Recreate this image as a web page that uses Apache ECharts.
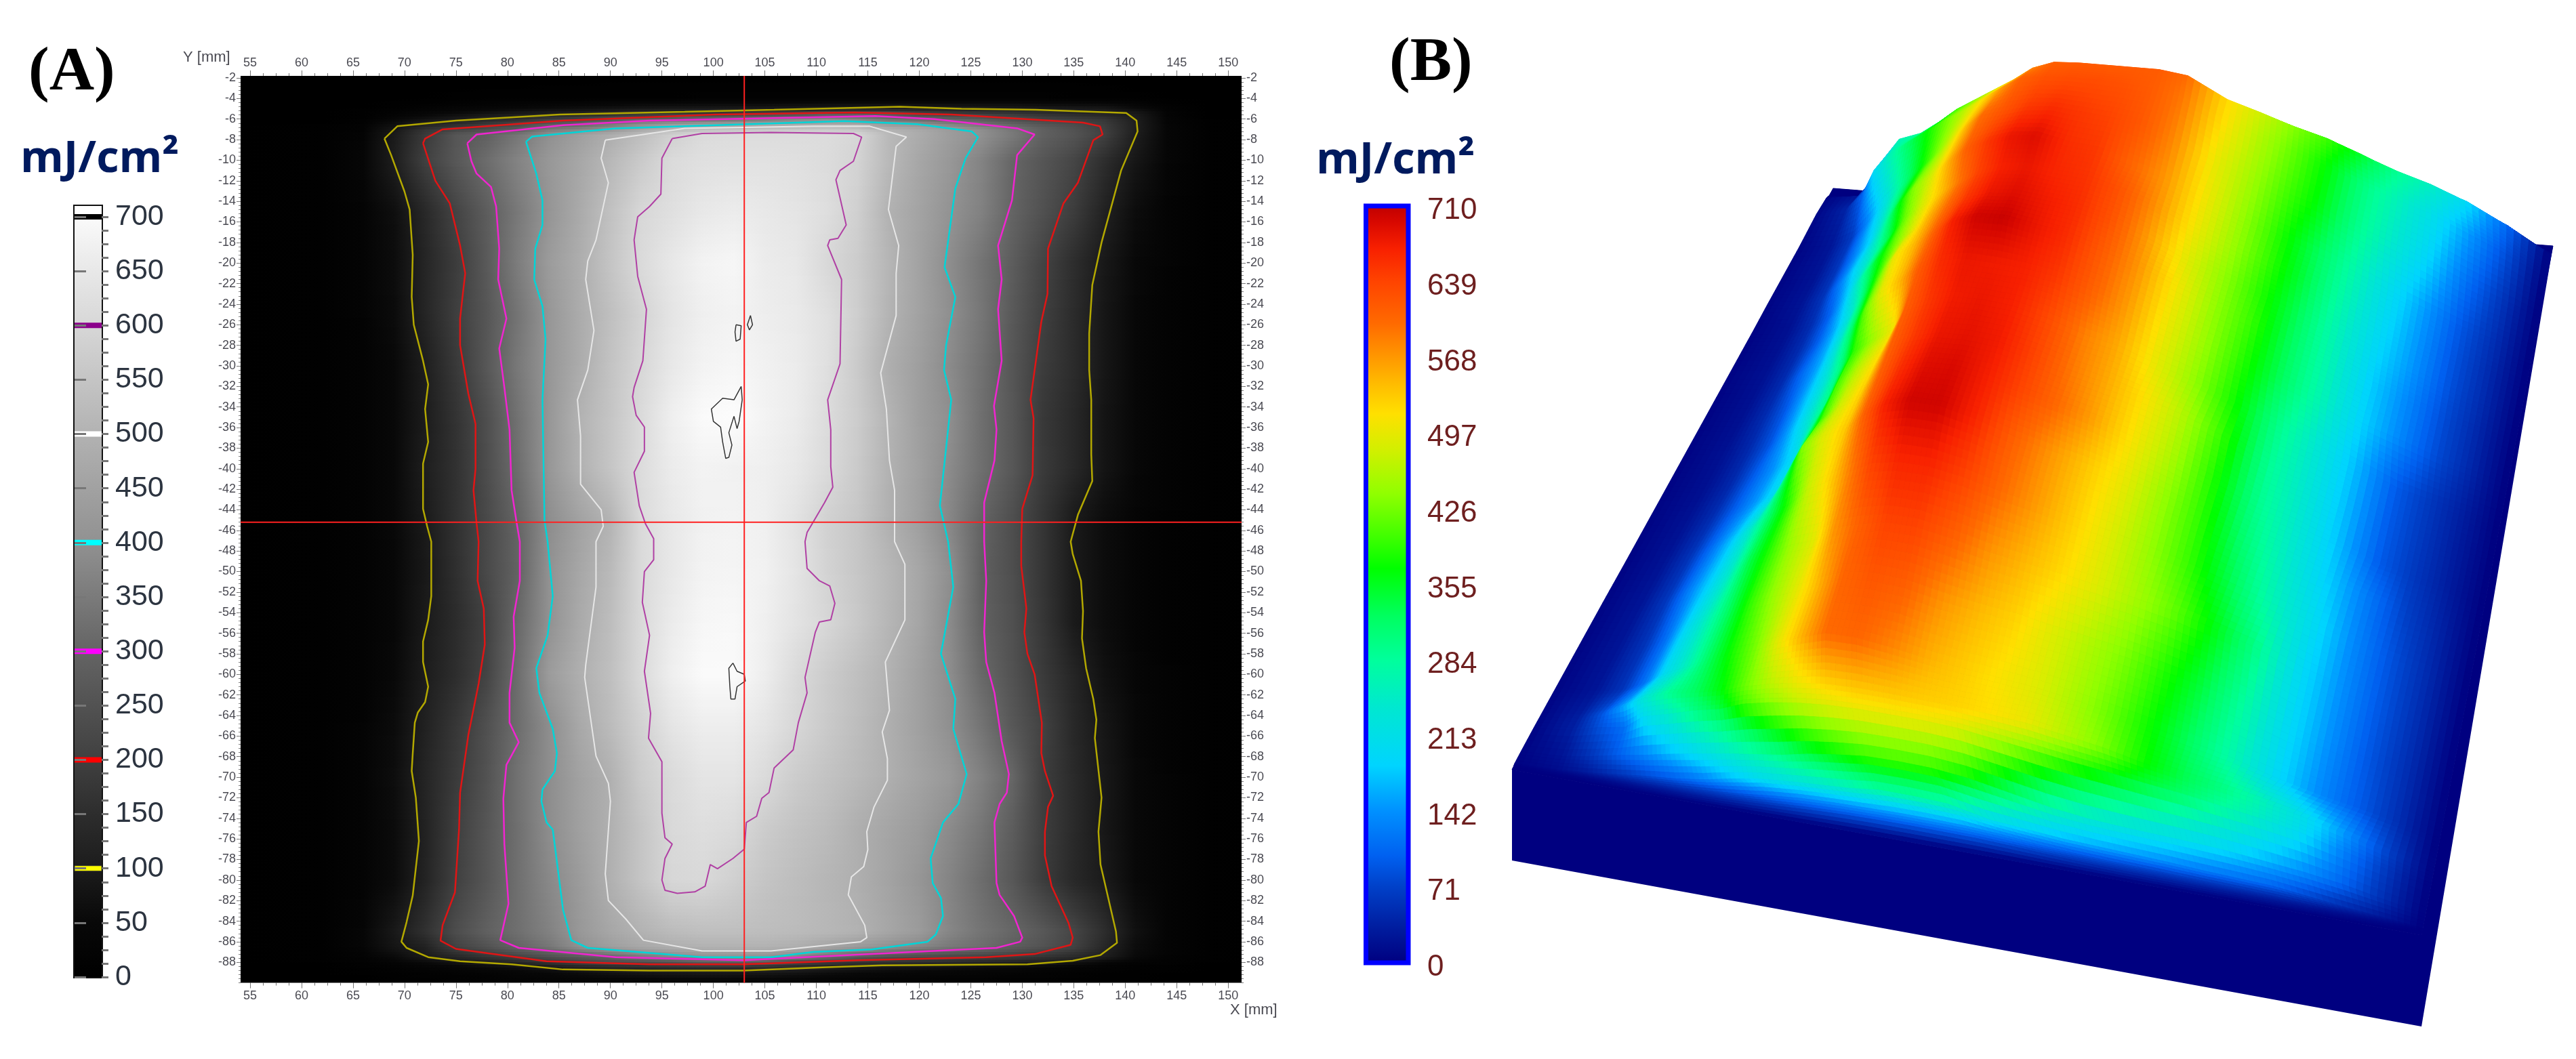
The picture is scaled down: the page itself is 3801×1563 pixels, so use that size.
<!DOCTYPE html>
<html lang="en">
<head>
    <meta charset="UTF-8">
    <title>Fluence map</title>
    <style>html,body{margin:0;background:#fff}#main{width:3801px;height:1563px}</style>
</head>
<body>
<div id="main"></div>
<script src="https://cdn.jsdelivr.net/npm/echarts@6/dist/echarts.min.js"></script>
<script>
// x [mm] and y [mm] of the sampled fluence table
var fieldX = [54,62,66,69,72,75,78,81,84,87,90,93,96,99,102,105,108,111,114,117,120,123,126,129,132,135,138,141,144,148,152];
var fieldY = [-1.8,-4,-5,-5.5,-6,-6.5,-7,-7.5,-10,-15,-20,-25,-30,-35,-40,-45,-50,-55,-60,-65,-70,-75,-80,-85,-86.5,-87.5,-88,-88.5,-89,-90];
var fieldValues = [
    [0,0,0,0,0,0,0,0,0,0,0,0,0,0,0,0,0,0,0,0,0,0,0,0,0,0,0,0,0,0,0],
    [0,0,1,2,3,4,5,6,8,8,10,10,10,12,12,12,14,14,14,14,14,14,14,14,12,10,8,4,2,0,0],
    [0,0,3,8,18,32,40,50,60,68,75,85,90,92,95,97,100,105,108,110,108,108,105,102,98,95,90,60,20,3,0],
    [0,0,5,20,40,60,80,95,105,120,140,165,180,190,200,215,230,260,270,260,215,200,190,180,160,140,120,95,25,3,0],
    [0,2,10,45,70,95,125,150,190,215,250,285,300,310,320,340,370,385,360,320,300,285,270,235,205,190,170,105,30,3,0],
    [0,3,15,65,110,145,185,220,270,300,340,390,420,430,440,450,460,475,470,420,400,365,330,295,260,230,190,110,35,4,0],
    [0,4,20,85,165,205,240,270,345,370,405,460,510,530,540,550,555,560,545,500,470,430,395,340,290,250,195,110,40,5,0],
    [0,5,25,95,185,260,290,340,395,440,485,530,580,610,615,615,615,615,600,520,480,435,400,350,290,255,200,105,40,5,0],
    [0,8,40,105,200,265,320,370,420,465,515,565,610,625,630,630,625,615,590,520,465,420,370,305,260,215,150,85,35,8,0],
    [0,5,25,65,135,210,280,345,410,475,540,600,625,650,660,650,640,620,580,500,455,405,365,300,245,190,115,60,25,5,0],
    [0,5,22,60,125,190,270,355,430,485,550,610,650,680,690,660,650,605,570,510,450,390,335,280,210,150,90,50,22,5,0],
    [0,5,22,58,125,195,260,335,415,480,535,590,640,670,680,665,655,625,575,505,450,395,340,270,200,145,85,45,20,5,0],
    [0,4,18,50,105,180,265,345,415,480,545,600,650,680,690,675,660,625,565,490,440,385,330,260,190,145,85,45,20,4,0],
    [0,4,18,48,100,165,240,330,415,500,550,610,670,700,705,680,660,615,570,505,440,395,325,265,180,135,80,42,18,4,0],
    [0,4,18,48,105,160,235,320,415,495,550,615,660,680,675,670,650,610,565,500,445,385,325,265,185,135,80,42,18,4,0],
    [0,4,18,48,95,160,225,300,390,450,505,610,650,675,680,670,635,585,555,495,440,375,300,240,170,95,60,32,15,4,0],
    [0,4,18,45,90,155,225,295,400,465,520,610,650,680,685,675,640,590,555,515,465,395,290,240,170,95,60,30,14,4,0],
    [0,4,18,45,95,145,205,310,400,475,530,610,660,690,695,670,635,600,560,510,460,385,295,245,175,95,60,30,14,4,0],
    [0,4,20,50,100,150,210,320,430,490,535,610,670,700,700,665,610,570,535,500,445,390,310,250,185,125,70,38,16,4,0],
    [0,4,22,58,115,175,245,320,390,470,525,585,640,665,665,640,600,565,530,490,445,395,335,265,205,135,85,45,20,5,0],
    [0,5,24,62,125,185,250,330,390,450,495,570,610,640,640,610,570,545,520,490,455,420,365,305,195,140,90,48,22,5,0],
    [0,5,24,58,118,195,260,325,390,445,495,550,605,620,610,570,545,525,490,460,430,385,340,280,195,140,88,48,22,5,0],
    [0,5,24,58,120,200,260,325,380,430,495,550,600,605,580,550,530,510,490,455,415,370,320,265,190,135,95,50,24,5,0],
    [0,5,35,90,160,235,290,325,365,420,465,500,525,535,535,530,525,515,500,465,430,375,335,305,265,215,150,70,28,5,0],
    [0,5,35,82,115,205,250,300,340,400,440,470,490,500,500,500,490,460,430,400,375,345,320,285,250,205,130,60,25,5,0],
    [0,4,22,55,95,130,170,205,240,270,300,340,370,395,400,395,370,320,270,240,225,215,205,190,165,140,105,50,20,4,0],
    [0,3,14,30,55,80,100,130,170,205,225,240,255,280,280,270,210,190,170,160,150,140,125,115,105,75,45,25,12,3,0],
    [0,2,8,15,28,40,55,70,90,115,135,145,150,155,155,150,135,110,95,85,78,70,62,55,45,30,20,12,6,2,0],
    [0,1,4,8,14,20,28,38,50,62,75,85,90,92,90,88,78,65,55,48,42,38,32,28,22,15,10,6,3,1,0],
    [0,0,1,3,5,8,10,14,18,22,25,28,30,30,30,28,25,22,18,15,13,10,10,8,6,5,3,2,1,0,0]
];

// contours, [x mm, y mm]
var contour100 = [[68.05,-7.9],[68.7,-9.5],[70,-13.05],[70.5,-14.8],[70.8,-19.2],[70.7,-23.3],[70.9,-26],[71.8,-29.5],[72.3,-31.8],[72,-34.2],[72.3,-37.4],[71.8,-39.5],[71.8,-43.9],[72.2,-45.6],[72.6,-47.1],[72.6,-52.4],[72.3,-54.7],[71.8,-56.8],[71.8,-58.8],[72.3,-61.2],[72,-62.7],[71.3,-63.7],[71,-64.7],[70.8,-67.7],[70.7,-69.4],[71.1,-72],[71.4,-76.2],[70.8,-81.5],[70.2,-84.1],[69.7,-86],[70.2,-86.6],[72.3,-87.5],[75.4,-87.9],[80.4,-88.2],[85.4,-88.7],[93.8,-88.8],[102.9,-88.8],[110.6,-88.5],[116.4,-88.3],[130.5,-88.2],[134.9,-87.85],[137.6,-87.3],[139.2,-86.1],[139.1,-85],[137.6,-78.5],[137.4,-75.3],[137.7,-72],[137.05,-66.2],[137.2,-64.4],[136.9,-62.4],[136.2,-59.4],[135.8,-56.5],[135.9,-53.85],[135.7,-50.9],[134.9,-48.3],[134.7,-47.1],[135.4,-44.5],[136.8,-41.2],[136.7,-38.6],[136.7,-33.3],[136.5,-30.4],[136.5,-26.85],[136.8,-22.15],[137.7,-18],[139.6,-11],[141.2,-7.2],[141.1,-6.15],[140.1,-5.4],[131.3,-5.1],[124.1,-5],[118.1,-4.8],[105.9,-5.1],[97.2,-5.3],[85.1,-5.56],[75,-6.15],[69.3,-6.7],[68.05,-7.9]];
var contour200 = [[71.8,-8.35],[73,-12],[74.4,-14.2],[75.4,-18.3],[75.9,-21],[75.7,-22.7],[75.4,-25.4],[75.4,-28],[76.2,-32.7],[76.9,-35.65],[76.9,-40],[76.7,-42.1],[77,-45.3],[77.2,-47.1],[77.1,-50.9],[77.7,-53.6],[77.8,-57.1],[77.2,-60.9],[76.2,-65.9],[75.4,-71.5],[75.3,-75],[74.9,-81.2],[73.7,-84.4],[73.5,-85.9],[75,-86.7],[83.8,-87.9],[93.8,-88.2],[102.9,-88.2],[114,-87.8],[126.5,-87.5],[131.2,-87.2],[134.7,-86.3],[134.9,-85.6],[134.5,-84.2],[132.85,-80.6],[132.2,-77.6],[132.2,-75.3],[132.5,-72.9],[133,-71.8],[132.2,-69.4],[131.85,-67.65],[131.9,-64.7],[131.2,-60],[130.5,-58],[130.2,-55.9],[130.4,-53.6],[129.9,-49.45],[129.9,-47.1],[130,-43.9],[131,-40.65],[131.1,-35.1],[130.8,-33.3],[131.2,-30.4],[131.85,-25.7],[132.45,-23],[132.5,-18.6],[134,-14.2],[135.4,-12.2],[136.9,-8.05],[137.8,-7.5],[137.55,-6.7],[135.9,-6.35],[123.1,-5.56],[113.7,-5.35],[100.2,-5.56],[85.4,-6.15],[73.7,-7],[72,-7.9],[71.8,-8.35]];
var contour300 = [[76.1,-8.35],[76.5,-10.1],[77,-11.3],[78.4,-12.6],[78.9,-14.5],[79.2,-18.6],[79.1,-21.6],[79.9,-25.4],[79.2,-28.3],[79.7,-32.1],[80.2,-36.2],[80.4,-42.1],[80.9,-45.3],[81.2,-47.1],[81.2,-50.9],[80.6,-54.4],[80.7,-57.4],[80.2,-61.8],[80.2,-64.7],[81.1,-66.6],[79.9,-68.8],[79.6,-72.1],[79.7,-76.5],[80.1,-82.3],[79.3,-85.85],[81.1,-86.6],[90.5,-87.5],[102.9,-87.8],[121.4,-86.9],[127.5,-86.6],[129.8,-86],[130,-85.6],[129.2,-83.5],[127.8,-81.45],[127.5,-80.3],[127.3,-74.4],[127.8,-72.6],[128.5,-71.5],[128.7,-69.7],[128,-66.5],[127.3,-61.8],[126.5,-58.8],[126.3,-55.9],[126.5,-50.9],[126.3,-47.1],[126.3,-43.3],[127.3,-39.2],[127.5,-36.2],[127.25,-33.9],[128,-29.5],[127.65,-24.5],[128,-21.6],[127.65,-18.3],[129,-13.9],[129.5,-9.5],[131.2,-7.5],[129.5,-6.9],[121.45,-6],[115.7,-5.7],[93.8,-6.15],[85.4,-6.6],[77,-7.5],[76.1,-8.35]];
var contour400 = [[81.8,-8.2],[82.8,-11.3],[83.4,-13.9],[83.4,-16.3],[82.7,-18.6],[82.6,-21.6],[83.4,-24.2],[83.7,-27.4],[83.4,-33.3],[83.6,-45.05],[83.9,-47.1],[84.4,-52.4],[83.9,-56.2],[82.8,-59.4],[83.1,-61.8],[84.4,-65.3],[84.8,-67.65],[84.6,-69.4],[83.4,-71.2],[83.3,-72.35],[83.8,-74.4],[84.4,-75.1],[85.4,-82.9],[86.2,-85.85],[87.8,-86.6],[98.9,-87.5],[105.6,-87.5],[109.7,-87],[115.4,-86.75],[120.8,-86],[121.6,-85.3],[122.3,-83.5],[122.1,-81.75],[121.3,-80.3],[121.1,-77.9],[122.3,-74.4],[123.8,-72.6],[124.6,-69.7],[123.3,-65.3],[123.5,-62.4],[122.1,-58],[123.3,-51.5],[122.8,-47.1],[122,-43.6],[123.1,-33.3],[122.4,-30.4],[122.6,-28],[123.5,-23.3],[122.45,-20.4],[123.5,-12.75],[124.5,-9.8],[125.7,-7.75],[125.1,-7.2],[119.8,-6.5],[112.7,-6.2],[90.5,-6.9],[82.4,-7.7],[81.8,-8.2]];
var contour500 = [[89.5,-8.05],[89.1,-9.8],[89.8,-12.2],[88.6,-17.75],[87.8,-19.8],[87.6,-21.6],[88.4,-26.55],[87.8,-30.4],[86.8,-33.3],[87.1,-36.8],[87.1,-41.5],[89.1,-44],[89.3,-45.6],[88.6,-47.1],[88.6,-51.5],[87.6,-59.1],[87.5,-60.3],[88.6,-67.95],[89.8,-70.6],[90,-72.35],[89.5,-79.4],[89.8,-82],[91.5,-83.8],[93.2,-85.85],[98.9,-86.9],[105.6,-86.9],[114.3,-86],[114.9,-85.6],[114.7,-84.4],[113.1,-81.45],[113.4,-79.7],[114.6,-78.7],[115,-77.05],[114.9,-75.3],[115.6,-72.9],[116.9,-70.3],[116.9,-68.2],[116.4,-65.6],[117.1,-63.5],[116.7,-58.8],[118.6,-54.7],[118.6,-49.3],[117.6,-47.1],[117.6,-42.1],[117.1,-39.2],[116.8,-34.2],[116.25,-30.7],[117.75,-25.1],[117.75,-21],[118,-18.3],[117,-14.8],[117.75,-8.65],[118.75,-7.75],[115.2,-6.7],[109.7,-6.7],[97.2,-6.9],[89.5,-8.05]];
var contour600 = [[96,-7.9],[95,-9.8],[94.9,-13.3],[93.8,-14.5],[92.65,-15.5],[92.3,-17.75],[92.65,-21.3],[93.5,-24.5],[93.15,-29.5],[92.3,-32.1],[92.15,-33],[92.5,-34.8],[93.3,-35.95],[93.3,-38.3],[92.3,-40.35],[92.8,-43.6],[93.4,-45.35],[94.2,-46.8],[94.2,-48.85],[93.3,-50],[93.1,-53],[93.8,-56.2],[93.3,-59.7],[93.9,-63.8],[93.7,-66.2],[95,-68.5],[95,-73.5],[95.3,-75.9],[96,-76.5],[95.3,-77.9],[95,-80],[95.3,-81],[96.5,-81.3],[98.2,-81.15],[99.2,-80.6],[99.7,-78.5],[100.4,-78.9],[101.9,-77.9],[103,-77],[103.2,-74.4],[104.2,-73.8],[104.7,-72.05],[105.4,-71.5],[105.9,-69.1],[107.75,-67.35],[108.25,-64.7],[109.1,-61.8],[108.9,-60.3],[109.9,-55.9],[110.3,-54.9],[111.4,-54.7],[111.8,-53.1],[111.3,-51.4],[110.3,-50.9],[109.1,-49.7],[108.9,-47.1],[109.1,-46.2],[109.8,-45],[110.8,-43.3],[111.6,-41.8],[111.4,-39.8],[111.4,-36.2],[111.1,-33.3],[112.3,-29.8],[112.45,-21.6],[111.1,-18.3],[111.3,-17.75],[112.1,-17.6],[112.9,-16.3],[111.9,-11.9],[112.3,-11],[113.6,-10.1],[114.4,-7.75],[113.6,-7.4],[105.6,-7.3],[98.9,-7.4],[96,-7.9]];
var contour700a = [[102.2,-26],[102.7,-26.1],[102.6,-27.4],[102.2,-27.6],[102.1,-26.7],[102.2,-26]];
var contour700b = [[103.6,-25.1],[103.8,-26],[103.5,-26.5],[103.3,-26],[103.6,-25.1]];
var contour700c = [[102.7,-32],[102.8,-33.3],[102.5,-35.4],[102.3,-36.1],[102,-34.9],[101.5,-36.5],[101.8,-37.7],[101.5,-38.9],[101.2,-39],[100.9,-37.4],[100.7,-35.95],[100,-35.4],[99.8,-34.2],[100.9,-33.15],[102,-33.3],[102.7,-32]];
var contour700d = [[101.9,-58.9],[102.3,-59.7],[103,-60],[103.1,-60.65],[102.3,-61.2],[102.1,-62.4],[101.7,-62.4],[101.6,-61.2],[101.5,-59.4],[101.9,-58.9]];

var crossX = 103, crossY = -45.2;
var xTickLabels = [55,60,65,70,75,80,85,90,95,100,105,110,115,120,125,130,135,140,145,150];
var yTickLabels = [-2,-4,-6,-8,-10,-12,-14,-16,-18,-20,-22,-24,-26,-28,-30,-32,-34,-36,-38,-40,-42,-44,-46,-48,-50,-52,-54,-56,-58,-60,-62,-64,-66,-68,-70,-72,-74,-76,-78,-80,-82,-84,-86,-88];
var barATicks = [0,50,100,150,200,250,300,350,400,450,500,550,600,650,700];
var barALevels = [100,200,300,400,500,600,700];

var levelColors = {100:'#ffff00',200:'#ff0000',300:'#ff00ff',400:'#00ffff',500:'#ffffff',600:'#8b008b',700:'#000000'};
var grayStops = [[0,0],[50,8],[100,28],[150,45],[200,64],[300,100],[400,145],[500,178],[600,215],[650,232],[700,250],[710,255]];
var jetStops = [[0,'#000080'],[30,'#001a9c'],[71,'#0040c8'],[100,'#0060f0'],[142,'#0090ff'],[185,'#00d4ff'],[240,'#00e8d0'],[284,'#00ff9c'],[325,'#00ff60'],[370,'#00ff00'],[400,'#40ff00'],[440,'#90ff00'],[480,'#d0f000'],[515,'#ffe000'],[540,'#ffc000'],[568,'#ff9800'],[600,'#ff6a00'],[639,'#ff4400'],[670,'#f82000'],[695,'#d80800'],[710,'#c00000']];

function hexRgb(h) {
    return [parseInt(h.substr(1,2),16), parseInt(h.substr(3,2),16), parseInt(h.substr(5,2),16)];
}
function grayOf(v) {
    for (var i = 1; i < grayStops.length; i++) {
        if (v <= grayStops[i][0]) {
            var a = grayStops[i-1], b = grayStops[i];
            var g = Math.round(a[1] + (b[1]-a[1]) * (v-a[0]) / (b[0]-a[0]));
            return 'rgb(' + g + ',' + g + ',' + g + ')';
        }
    }
    return '#fff';
}
function jetOf(v) {
    for (var i = 1; i < jetStops.length; i++) {
        if (v <= jetStops[i][0]) {
            var a = jetStops[i-1], b = jetStops[i], t = (v-a[0]) / (b[0]-a[0]);
            var ca = hexRgb(a[1]), cb = hexRgb(b[1]);
            return 'rgb(' + Math.round(ca[0]+(cb[0]-ca[0])*t) + ',' + Math.round(ca[1]+(cb[1]-ca[1])*t) + ',' + Math.round(ca[2]+(cb[2]-ca[2])*t) + ')';
        }
    }
    return '#c00000';
}
function stepLookup(stops, x) {
    for (var i = 1; i < stops.length; i++) {
        if (x <= stops[i][0]) {
            var a = stops[i-1], b = stops[i];
            return a[1] + (b[1]-a[1]) * (x-a[0]) / (b[0]-a[0]);
        }
    }
    return stops[stops.length-1][1];
}

// shaded strips of the grey map, one data item per table row
function renderGrayRow(params, api) {
    var r = api.value(0);
    var children = [];
    var y0 = api.coord([54, fieldY[r]])[1], y1 = api.coord([54, fieldY[r+1]])[1];
    var x0 = api.coord([54, -40])[0], x1 = api.coord([152, -40])[0];
    var n = Math.max(1, Math.ceil((y1-y0) / 5));
    for (var s = 0; s < n; s++) {
        var t = (s + 0.5) / n, stops = [];
        for (var c = 0; c < fieldX.length; c++) {
            stops.push({
                offset: (fieldX[c]-54) / 98,
                color: grayOf(fieldValues[r][c] * (1-t) + fieldValues[r+1][c] * t)
            });
        }
        children.push({
            type: 'rect',
            shape: {x: x0, y: y0 + (y1-y0)*s/n, width: x1-x0, height: (y1-y0)/n + 1},
            style: {fill: new echarts.graphic.LinearGradient(0, 0, 1, 0, stops)}
        });
    }
    return {type: 'group', children: children};
}

// corners of the block's top face and its foot, in page pixels
var blockFL = [2231,1136], blockFR = [3573,1380], blockBR = [3767,363], blockBL = [2705,278];
var footFL = [2231,1270], footFR = [3573,1515];
var leanPerUnit = 0.24;
// the block only shows this x range
var blockX0 = 62, blockX1 = 144;
// y [mm] to depth on the block, and height per mJ/cm2 by depth
var depthStops = [[-90,0],[-88,0.01],[-87.5,0.03],[-86.5,0.07],[-85,0.09],[-80,0.14],[-60,0.43],[-35,0.71],[-20,0.84],[-7.5,0.98],[-1.8,1]];
var liftStops = [[0,0.25],[0.4,0.36],[1,0.4]];
var colFirst = fieldX.indexOf(blockX0), colLast = fieldX.indexOf(blockX1);

function project(x, y, z) {
    var u = (x-blockX0) / (blockX1-blockX0), v = stepLookup(depthStops, y);
    var fx = blockFL[0] + (blockFR[0]-blockFL[0])*u, fy = blockFL[1] + (blockFR[1]-blockFL[1])*u;
    var bx = blockBL[0] + (blockBR[0]-blockBL[0])*u, by = blockBL[1] + (blockBR[1]-blockBL[1])*u;
    return [fx + (bx-fx)*v - leanPerUnit*z, fy + (by-fy)*v - stepLookup(liftStops, v)*z];
}
// the rim of the block sits flat on its top face
function heightAt(r, c) {
    if (c >= colLast || r === fieldY.length - 1) return 0;
    return fieldValues[r][c];
}

// one data item per table cell, drawn back to front
function renderSurfaceCell(params, api) {
    var r = api.value(0), c = api.value(1);
    var children = [];
    var ny = (fieldY[r] - fieldY[r+1]) > 2 ? 7 : 4, nx = 6;
    var q0 = heightAt(r, c), q1 = heightAt(r, c+1), w0 = heightAt(r+1, c), w1 = heightAt(r+1, c+1);
    function heightIn(a, b) {
        return (q0*(1-a) + q1*a)*(1-b) + (w0*(1-a) + w1*a)*b;
    }
    for (var j = 0; j < ny; j++) {
        for (var i = 0; i < nx; i++) {
            var corners = [[i,j],[i+1,j],[i+1,j+1],[i,j+1]].map(function (p) {
                var a = p[0]/nx, b = p[1]/ny;
                return api.coord(project(fieldX[c] + (fieldX[c+1]-fieldX[c])*a, fieldY[r] + (fieldY[r+1]-fieldY[r])*b, heightIn(a, b)));
            });
            var col = jetOf(heightIn((i+0.5)/nx, (j+0.5)/ny));
            children.push({
                type: 'polygon',
                shape: {points: corners},
                style: {fill: col, stroke: col, lineWidth: 1}
            });
        }
    }
    return {type: 'group', children: children};
}

function renderWalls(params, api) {
    function pts(list) {
        return list.map(function (p) { return api.coord(p); });
    }
    return {
        type: 'group',
        children: [
            {type: 'polygon', shape: {points: pts([blockFL, blockFR, blockBR, blockBL])}, style: {fill: '#000080'}},
            {type: 'polygon', shape: {points: pts([blockFL, blockFR, footFR, footFL])}, style: {fill: '#000080'}},
            {type: 'polygon', shape: {points: pts([blockFR, blockBR, footFR])}, style: {fill: '#000080'}}
        ]
    };
}

function gradientStops(stops, top, colorFn) {
    var out = [];
    for (var i = stops.length - 1; i >= 0; i--) {
        if (stops[i][0] <= top) {
            out.push({offset: 1 - stops[i][0] / top, color: colorFn(stops[i][0])});
        }
    }
    return out;
}

function renderBarA(params, api) {
    var p0 = api.coord([0, 700]), p1 = api.coord([1, 0]), p2 = api.coord([0, 710]);
    var marks = [];
    barALevels.forEach(function (lv) {
        var m = api.coord([0, lv]);
        marks.push({
            type: 'rect',
            shape: {x: p0[0], y: m[1] - 4, width: p1[0]-p0[0], height: 8},
            style: {fill: levelColors[lv], stroke: lv === 100 ? '#333' : null, lineWidth: 1}
        });
    });
    return {
        type: 'group',
        children: [
            {type: 'rect', shape: {x: p0[0], y: p2[1], width: p1[0]-p0[0], height: p0[1]-p2[1]}, style: {fill: '#fff'}},
            {
                type: 'rect',
                shape: {x: p0[0], y: p0[1], width: p1[0]-p0[0], height: p1[1]-p0[1]},
                style: {fill: new echarts.graphic.LinearGradient(0, 0, 0, 1, gradientStops(grayStops, 700, grayOf))}
            }
        ].concat(marks)
    };
}

function renderBarB(params, api) {
    var p0 = api.coord([0, 710]), p1 = api.coord([1, 0]);
    return {
        type: 'rect',
        shape: {x: p0[0], y: p0[1], width: p1[0]-p0[0], height: p1[1]-p0[1]},
        style: {fill: new echarts.graphic.LinearGradient(0, 0, 0, 1, gradientStops(jetStops, 710, jetOf))}
    };
}

var rowItems = [], cellItems = [];
fieldY.forEach(function (y, r) {
    if (r < fieldY.length - 1) {
        rowItems.push([r]);
        for (var c = colFirst; c < colLast; c++) cellItems.push([r, c]);
    }
});

var minorX = [], minorY = [];
for (var k = 55; k <= 151; k += 1.25) minorX.push(k);
for (var m = -90; m <= -2; m += 0.4) minorY.push(m);
var minorA = [];
for (var n = 0; n <= 700; n += 12.5) minorA.push(n);

var smallLabel = {fontFamily: 'Liberation Sans', fontSize: 18, color: '#4a4a52'};

function mainX(pos, withLabels, ticks, len) {
    return {
        type: 'value', gridIndex: 0, position: pos, min: 54.08, max: 151.3,
        splitLine: {show: false}, axisLine: {show: false},
        axisTick: {show: true, customValues: ticks, length: len, lineStyle: {color: '#777', width: 1}},
        axisLabel: Object.assign({show: withLabels, customValues: xTickLabels, margin: 10}, smallLabel)
    };
}
function mainY(pos, withLabels, ticks, len) {
    return {
        type: 'value', gridIndex: 0, position: pos, min: -90, max: -1.8,
        splitLine: {show: false}, axisLine: {show: false},
        axisTick: {show: true, customValues: ticks, length: len, lineStyle: {color: '#777', width: 1}},
        axisLabel: Object.assign({show: withLabels, customValues: yTickLabels, margin: 7}, smallLabel)
    };
}
function contourSeries(data, color, width) {
    return {
        type: 'line', xAxisIndex: 0, yAxisIndex: 0, data: data, showSymbol: false, silent: true,
        lineStyle: {color: color, width: width}, z: 5, animation: false
    };
}
function hiddenAxis(grid, min, max, inverse) {
    return {type: 'value', gridIndex: grid, min: min, max: max, inverse: !!inverse, show: false};
}

var option = {
    backgroundColor: '#fff',
    animation: false,
    grid: [
        {left: 355, top: 112, width: 1477, height: 1338.6},
        {left: 110, top: 304, width: 40, height: 1138, show: true, borderColor: '#111', borderWidth: 4, backgroundColor: '#fff'},
        {left: 2015.5, top: 304, width: 62.5, height: 1117, show: true, borderColor: '#0000ff', borderWidth: 7, z: 3},
        {left: 0, top: 0, width: 3801, height: 1563},
        // carries the labels of the colour scale, which sit a little under their ticks
        {left: 2015.5, top: 311, width: 62.5, height: 1117}
    ],
    xAxis: [
        mainX('bottom', true, xTickLabels, 8),
        mainX('bottom', false, minorX, 4),
        mainX('top', true, xTickLabels, 8),
        mainX('top', false, minorX, 4),
        hiddenAxis(1, 0, 1),
        hiddenAxis(2, 0, 1),
        hiddenAxis(3, 0, 3801),
        hiddenAxis(4, 0, 1)
    ],
    yAxis: [
        mainY('left', true, yTickLabels, 6),
        mainY('left', false, minorY, 3),
        mainY('right', true, yTickLabels, 6),
        mainY('right', false, minorY, 3),
        {
            type: 'value', gridIndex: 1, position: 'right', min: 0, max: 710,
            splitLine: {show: false}, axisLine: {show: false},
            axisTick: {show: true, customValues: barATicks, length: 17, lineStyle: {color: '#777', width: 3}},
            axisLabel: {customValues: barATicks, margin: 20, fontFamily: 'Liberation Sans', fontSize: 43, color: '#2c3440'},
            z: 4
        },
        {
            type: 'value', gridIndex: 1, position: 'right', min: 0, max: 710,
            splitLine: {show: false}, axisLine: {show: false},
            axisTick: {show: true, customValues: minorA, length: 10, lineStyle: {color: '#777', width: 3}},
            axisLabel: {show: false}
        },
        {
            type: 'value', gridIndex: 2, position: 'right', min: 0, max: 710, interval: 71,
            splitLine: {show: false}, axisLine: {show: false},
            axisTick: {show: true, length: 17, lineStyle: {color: '#0000ff', width: 6}},
            axisLabel: {show: false}
        },
        hiddenAxis(3, 0, 1563, true),
        {
            type: 'value', gridIndex: 4, position: 'right', min: 0, max: 710, interval: 71,
            splitLine: {show: false}, axisLine: {show: false}, axisTick: {show: false},
            axisLabel: {margin: 28, fontFamily: 'Liberation Sans', fontSize: 44, color: '#6e1f1f'}
        }
    ],
    series: [
        {
            type: 'custom', xAxisIndex: 0, yAxisIndex: 0, data: rowItems, renderItem: renderGrayRow,
            clip: true, silent: true, z: 1, encode: {x: -1, y: -1}
        },
        contourSeries(contour100, '#b3a800', 2.5),
        contourSeries(contour200, '#e01515', 2.5),
        contourSeries(contour300, '#f025d0', 2.5),
        contourSeries(contour400, '#00d5d8', 2.5),
        contourSeries(contour500, '#e6e6e6', 2),
        contourSeries(contour600, '#b040a4', 2),
        contourSeries(contour700a, '#333', 1.5),
        contourSeries(contour700b, '#333', 1.5),
        contourSeries(contour700c, '#333', 1.5),
        contourSeries(contour700d, '#333', 1.5),
        contourSeries([[crossX, -90], [crossX, -1.8]], '#ff2020', 2),
        contourSeries([[54.08, crossY], [151.3, crossY]], '#ff2020', 2),
        {
            type: 'custom', xAxisIndex: 4, yAxisIndex: 4, data: [[0]], renderItem: renderBarA,
            silent: true, z: 2, encode: {x: -1, y: -1}
        },
        {
            type: 'custom', xAxisIndex: 5, yAxisIndex: 6, data: [[0]], renderItem: renderBarB,
            silent: true, z: 2, encode: {x: -1, y: -1}
        },
        {
            type: 'custom', xAxisIndex: 6, yAxisIndex: 7, data: [[0]], renderItem: renderWalls,
            clip: false, silent: true, z: 2, encode: {x: -1, y: -1}
        },
        {
            type: 'custom', xAxisIndex: 6, yAxisIndex: 7, data: cellItems, renderItem: renderSurfaceCell,
            clip: false, silent: true, z: 3, progressive: 0, encode: {x: -1, y: -1}
        }
    ],
    graphic: [
        {type: 'text', left: 42, top: 62, style: {text: '(A)', font: 'bold 92px "Liberation Serif"', fill: '#000'}},
        {type: 'text', left: 2050, top: 48, style: {text: '(B)', font: 'bold 92px "Liberation Serif"', fill: '#000'}},
        {type: 'text', left: 30, top: 203, style: {text: 'mJ/cm²', font: 'bold 65px "Open Sans"', fill: '#001a5e'}},
        {type: 'text', left: 1942, top: 205, style: {text: 'mJ/cm²', font: 'bold 65px "Open Sans"', fill: '#001a5e'}},
        {type: 'text', left: 270, top: 74, style: {text: 'Y [mm]', font: '22px "Liberation Sans"', fill: '#4a4a52'}},
        {type: 'text', left: 1815, top: 1480, style: {text: 'X [mm]', font: '22px "Liberation Sans"', fill: '#4a4a52'}}
    ]
};

var myChart = echarts.init(document.getElementById('main'));
myChart.setOption(option);
</script>
</body>
</html>
